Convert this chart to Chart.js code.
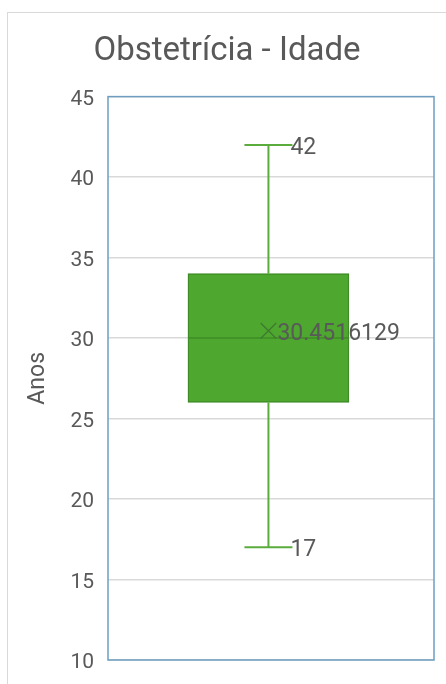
<!DOCTYPE html>
<html>
<head>
<meta charset="utf-8">
<script src="https://cdn.jsdelivr.net/npm/chart.js@4.4.1/dist/chart.umd.min.js"></script>
<style>
    html, body { margin: 0; padding: 0; background: #fff; overflow: hidden; }
    #moldura { position: absolute; left: 7px; top: 12px; width: 700px; height: 900px; border: 1px solid #d9d9d9; }
    #grafico { position: absolute; left: 0; top: 0; }
</style>
</head>
<body>
<div id="moldura"></div>
<canvas id="grafico" width="446" height="684"></canvas>
<script>
// dados do boxplot (Obstetrícia - Idade)
const categorias = ['Obstetrícia']
const minimo = [17]
const quartil1 = [26]
const mediana = [30]
const quartil3 = [34]
const maximo = [42]
const media = [30.4516129]
const rotuloMedia = ['30.4516129']
const eixoY = {min: 10, max: 45, passo: 5}

const VERDE = '#4ea72e'
const VERDE_ESCURO = '#3f8c26'
const CINZA = '#595959'
const FONTE = 'Roboto, "Noto Sans", sans-serif'

const pos = 1 // posição da categoria no eixo x

// desenha a moldura da área do gráfico
const molduraArea = {
    id: 'molduraArea',
    afterDraw(chart) {
        const {ctx, chartArea: a} = chart
        ctx.save()
        ctx.strokeStyle = '#6d9ec0'
        ctx.lineWidth = 1.5
        ctx.strokeRect(a.left, a.top, a.right - a.left, a.bottom - a.top)
        ctx.restore()
    }
}

// rótulos ao lado dos pontos (42, 17, média)
const rotulos = {
    id: 'rotulos',
    afterDatasetsDraw(chart) {
        const ctx = chart.ctx
        ctx.save()
        ctx.fillStyle = CINZA
        ctx.font = '23px ' + FONTE
        ctx.textBaseline = 'middle'
        ctx.textAlign = 'left'
        chart.data.datasets.forEach((ds, i) => {
            if (!ds.rotulos) return
            const meta = chart.getDatasetMeta(i)
            meta.data.forEach((el, j) => {
                const txt = ds.rotulos[j]
                if (txt === undefined || txt === null) return
                ctx.fillText(txt, el.x + ds.desvio, el.y + 3)
            })
        })
        ctx.restore()
    }
}

const ctx = document.getElementById('grafico')

new Chart(ctx, {
    data: {
        datasets: [
            { // caixa (Q1 - Q3)
                type: 'bar',
                label: categorias[0],
                data: [{x: pos, y: [quartil1[0], quartil3[0]]}],
                backgroundColor: VERDE,
                borderColor: VERDE_ESCURO,
                borderWidth: 1.5,
                borderSkipped: false,
                barThickness: 161,
                order: 10
            },
            { // bigode superior
                type: 'line',
                data: [{x: pos, y: quartil3[0]}, {x: pos, y: maximo[0]}],
                borderColor: '#5aad3c',
                borderWidth: 2,
                pointStyle: 'line',
                pointRadius: [0, 24],
                pointBorderColor: '#5aad3c',
                pointBorderWidth: 2,
                rotulos: [null, String(maximo[0])],
                desvio: 22,
                order: 1
            },
            { // bigode inferior
                type: 'line',
                data: [{x: pos, y: minimo[0]}, {x: pos, y: quartil1[0]}],
                borderColor: '#5aad3c',
                borderWidth: 2,
                pointStyle: 'line',
                pointRadius: [24, 0],
                pointBorderColor: '#5aad3c',
                pointBorderWidth: 2,
                rotulos: [String(minimo[0]), null],
                desvio: 22,
                order: 1
            },
            { // mediana
                type: 'scatter',
                data: [{x: pos, y: mediana[0]}],
                pointStyle: 'line',
                pointRadius: 80,
                pointBorderColor: VERDE_ESCURO,
                pointBorderWidth: 1.5,
                order: 1
            },
            { // média
                type: 'scatter',
                data: [{x: pos, y: media[0]}],
                pointStyle: 'crossRot',
                pointRadius: 11,
                pointBorderColor: '#3f7a30',
                pointBorderWidth: 1.3,
                rotulos: rotuloMedia,
                desvio: 9,
                order: 0
            }
        ]
    },
    options: {
        responsive: false,
        animation: false,
        events: [],
        layout: {autoPadding: false, padding: {left: 20, right: 12, top: 22, bottom: 24}},
        plugins: {
            legend: {display: false},
            tooltip: {enabled: false},
            title: {
                display: true,
                text: 'Obstetrícia - Idade',
                color: CINZA,
                font: {family: FONTE, size: 33, weight: 'normal'},
                padding: {top: 10, bottom: 25}
            }
        },
        scales: {
            x: {
                type: 'linear',
                min: 0,
                max: 2.04,
                display: false
            },
            y: {
                min: eixoY.min,
                max: eixoY.max,
                ticks: {
                    stepSize: eixoY.passo,
                    color: CINZA,
                    font: {family: FONTE, size: 21},
                    padding: 14,
                    labelOffset: 3
                },
                grid: {color: '#d9d9d9', lineWidth: 1.5, drawTicks: false},
                border: {display: false},
                title: {
                    display: true,
                    text: 'Anos',
                    color: CINZA,
                    font: {family: FONTE, size: 23},
                    padding: {top: 4, bottom: 0}
                },
                afterFit(scale) {
                    scale.width = 88
                    scale.paddingTop = 0
                    scale.paddingBottom = 0
                }
            }
        }
    },
    plugins: [molduraArea, rotulos]
})
</script>
</body>
</html>
